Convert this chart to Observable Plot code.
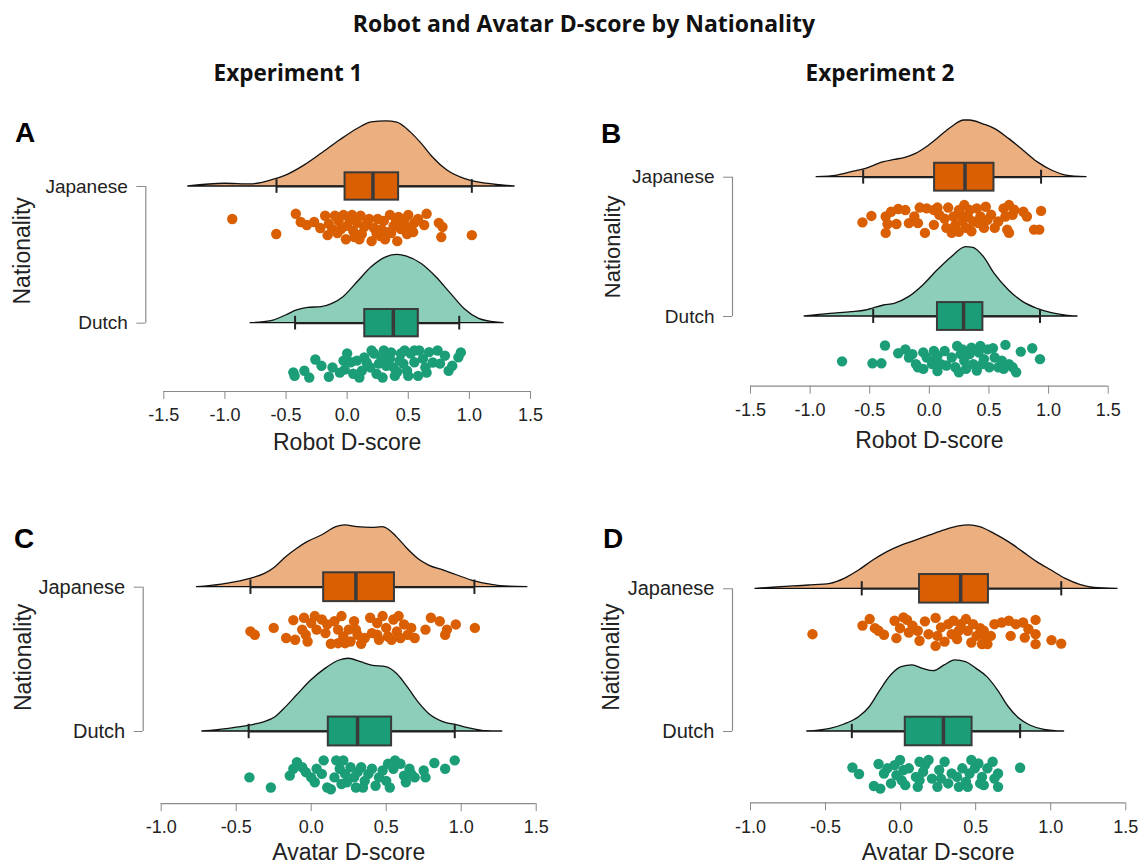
<!DOCTYPE html>
<html>
<head>
<meta charset="utf-8">
<script src="https://cdn.jsdelivr.net/npm/d3@7"></script>
<script src="https://cdn.jsdelivr.net/npm/@observablehq/plot@0.6"></script>
<style>
  html, body { margin: 0; padding: 0; background: #fff; }
  #wrap { position: relative; width: 1141px; height: 864px; overflow: hidden; }
  .pnl { position: absolute; }
  .pnl svg, .pnl svg text { font-family: 'Liberation Sans', Arial, sans-serif !important; }
  #overlay { position: absolute; left: 0; top: 0; pointer-events: none; }
</style>
</head>
<body>
<div id="wrap">
  <svg id="overlay" width="1141" height="864"></svg>
</div>
<script>
// ---------- categories & text ----------
const groups = ["Japanese", "Dutch"];
const groupColors = ["#d95f02", "#1b9e77"];
const ticksRobot = [-1.5, -1.0, -0.5, 0.0, 0.5, 1.0, 1.5];
const ticksAvatar = [-1.0, -0.5, 0.0, 0.5, 1.0, 1.5];
const mainTitle = "Robot and Avatar D-score by Nationality";
const colTitles = ["Experiment 1", "Experiment 2"];
const yLabel = "Nationality";

// ---------- Panel A (Experiment 1, Robot) ----------
const A_jpDensX = [-1.30,-1.0,-0.79,-0.62,-0.50,-0.35,-0.21,-0.06,0.085,0.20,0.32,0.41,0.52,0.61,0.70,0.82,0.96,1.11,1.25,1.37];
const A_jpDensH = [0,0.020,0.015,0.044,0.080,0.153,0.239,0.336,0.421,0.469,0.477,0.467,0.396,0.312,0.214,0.117,0.056,0.024,0.009,0];
const A_nlDensX = [-0.79,-0.62,-0.50,-0.41,-0.32,-0.21,-0.12,-0.03,0.085,0.20,0.32,0.41,0.49,0.61,0.73,0.85,0.96,1.08,1.20,1.28];
const A_nlDensH = [0,0.015,0.056,0.093,0.112,0.117,0.141,0.190,0.299,0.409,0.482,0.499,0.487,0.433,0.336,0.214,0.104,0.031,0.007,0];
const A_jpBox = [-0.578,-0.017,0.211,0.421,1.020];
const A_nlBox = [-0.426,0.144,0.378,0.582,0.917];
const A_jpPtsX = [-0.94,-0.58,-0.42,-0.38,-0.33,-0.27,-0.22,-0.18,-0.16,-0.15,-0.10,-0.08,-0.07,-0.03,-0.01,0.00,0.04,0.05,0.08,0.11,0.12,0.16,0.20,0.22,0.25,0.27,0.30,0.33,0.35,0.38,0.41,0.42,0.45,0.49,0.50,0.55,0.54,0.63,0.65,0.75,0.78,0.77,1.02,0.06,0.14,0.18,0.28,0.31,0.36,0.40,0.44,0.47,0.52,-0.05,-0.12,0.24,0.10,0.58,0.02];
const A_jpPtsJ = [0.19,0.74,0,0.30,0.41,0.30,0.52,0.07,0.78,0.37,0.07,0.70,0.26,0.04,0.93,0.44,0.04,0.63,0.33,0.07,0.74,0.37,1,0.52,0.19,0.81,0.26,0.67,0.04,0.44,1,0.11,0.37,0.74,0.04,0.33,0.67,0.41,0,0.33,0.48,0.85,0.78,0.85,0.48,0.19,0.56,0.93,0.70,0.26,0.56,0.19,0.48,0.56,0.56,0.70,0.93,0.19,0.22];
const A_nlPtsX = [-0.44,-0.43,-0.35,-0.31,-0.26,-0.21,-0.12,-0.15,-0.03,-0.02,0.03,0.05,0.10,0.14,0.19,0.22,0.26,0.29,0.30,0.35,0.38,0.39,0.44,0.46,0.49,0.52,0.55,0.58,0.59,0.64,0.67,0.74,0.76,0.80,0.83,0.86,0.91,0.93,0.12,0.20,0.24,0.32,0.36,0.41,0.47,0.50,0.55,0.62,0.70,0.00,-0.06,0.08,0.16,0.28,0.43,0.65];
const A_nlPtsJ = [0.80,0.93,0.74,0.99,0.33,0.56,0.62,0.96,0.37,0.70,0.43,0.85,0.99,0.25,0.62,0.11,0.48,0.99,0,0.30,0.62,0.93,0.11,0.48,0.74,0.11,0.43,0.93,0,0.62,0.06,0,0.48,0.19,0.74,0.56,0.25,0.07,0.74,0,0.85,0.56,0.07,0.78,0,0.93,0,0.30,0.44,0.11,0.81,0.37,0.44,0.26,0.37,0.81];

// ---------- Panel B (Experiment 2, Robot) ----------
const B_jpDensX = [-0.945,-0.771,-0.651,-0.531,-0.381,-0.291,-0.201,-0.112,-0.022,0.068,0.188,0.293,0.338,0.458,0.548,0.668,0.788,0.907,1.027,1.147,1.318];
const B_jpDensH = [0,0.012,0.036,0.060,0.108,0.124,0.139,0.167,0.215,0.275,0.359,0.407,0.407,0.378,0.347,0.275,0.192,0.108,0.048,0.012,0];
const B_nlDensX = [-1.046,-0.831,-0.651,-0.531,-0.381,-0.291,-0.171,-0.051,0.068,0.188,0.308,0.368,0.458,0.548,0.668,0.788,0.907,1.027,1.147,1.243];
const B_nlDensH = [0,0.019,0.031,0.043,0.079,0.091,0.139,0.223,0.330,0.426,0.498,0.493,0.426,0.306,0.187,0.103,0.055,0.024,0.007,0];
const B_jpBox = [-0.555,0.044,0.299,0.542,0.937];
const B_nlBox = [-0.471,0.068,0.287,0.449,0.928];
const B_jpPtsX = [-0.561,-0.486,-0.366,-0.351,-0.366,-0.321,-0.276,-0.261,-0.201,-0.171,-0.096,-0.081,-0.037,-0.022,0.038,0.038,0.068,0.128,0.158,0.188,0.203,0.218,0.248,0.248,0.278,0.293,0.308,0.323,0.338,0.353,0.368,0.398,0.428,0.458,0.473,0.518,0.548,0.578,0.623,0.638,0.653,0.668,0.698,0.713,0.788,0.818,0.878,0.922,0.937,0.668,0.083,0.263,0.413,-0.126,0.143,0.488];
const B_jpPtsJ = [0.62,0.39,0.41,0.68,1.0,0.24,0.68,0.14,0.18,0.65,0.65,0.09,1.0,0.12,0.71,0.18,0.09,0.49,0.09,1.0,0.41,0.71,0.18,0.96,0.59,0,0.82,0.41,0.18,0.94,0.59,0.12,0.41,0.82,0.06,0.35,0.82,0.59,0.12,0.41,0.88,0,0.35,0.18,0.24,0.41,0.88,0.88,0.21,1.0,0.35,0.35,0.65,0.41,0.82,0.53];
const B_nlPtsX = [-0.732,-0.477,-0.402,-0.372,-0.261,-0.201,-0.171,-0.112,-0.096,-0.051,-0.051,-0.022,0.038,0.053,0.068,0.128,0.143,0.188,0.218,0.233,0.248,0.263,0.293,0.308,0.338,0.353,0.368,0.398,0.413,0.428,0.458,0.488,0.503,0.533,0.548,0.578,0.623,0.638,0.668,0.698,0.728,0.767,0.863,0.928,0.098,0.023,-0.142,0.608,0.278,0.443,0.068];
const B_nlPtsJ = [0.61,0.68,0.68,0.04,0.32,0.18,0.47,0.71,0.82,0.29,0.88,0.47,0.24,0.53,0.96,0.24,0.76,0.47,0.82,0.06,1.0,0.35,0.59,0.88,0.35,0.12,0.71,0.94,0.29,0.06,0.53,0.18,0.82,0.14,0.47,0.82,0.88,0.02,0.71,0.82,1.0,0.26,0.14,0.53,0.71,0.71,0.35,0.59,0.18,0.71,0.41];

// ---------- Panel C (Experiment 1, Avatar) ----------
const C_jpDensX = [-0.762,-0.595,-0.500,-0.405,-0.309,-0.238,-0.167,-0.095,-0.024,0.071,0.167,0.226,0.309,0.405,0.476,0.524,0.571,0.643,0.714,0.786,0.881,0.976,1.071,1.167,1.262,1.441];
const C_jpDensH = [0,0.018,0.035,0.058,0.092,0.139,0.208,0.265,0.312,0.358,0.416,0.428,0.416,0.411,0.416,0.393,0.347,0.265,0.196,0.150,0.116,0.081,0.046,0.023,0.007,0];
const C_nlDensX = [-0.726,-0.548,-0.405,-0.309,-0.238,-0.167,-0.095,0.000,0.095,0.190,0.250,0.333,0.405,0.500,0.571,0.643,0.714,0.786,0.881,0.976,1.071,1.167,1.274];
const C_nlDensH = [0,0.018,0.042,0.065,0.099,0.169,0.249,0.353,0.434,0.492,0.504,0.480,0.457,0.446,0.400,0.307,0.203,0.122,0.065,0.042,0.018,0.002,0];
const C_jpBox = [-0.405,0.083,0.298,0.555,1.088];
const C_nlBox = [-0.417,0.114,0.309,0.536,0.957];
const C_jpPtsX = [-0.405,-0.376,-0.250,-0.167,-0.119,-0.107,-0.060,-0.048,-0.036,-0.024,0.000,0.024,0.036,0.071,0.095,0.131,0.155,0.179,0.202,0.214,0.226,0.250,0.262,0.286,0.309,0.333,0.357,0.393,0.405,0.440,0.452,0.476,0.500,0.512,0.548,0.571,0.583,0.595,0.619,0.643,0.667,0.690,0.762,0.798,0.857,0.893,0.905,0.964,1.091,0.536,0.440,0.298,0.179,0.107];
const C_jpPtsJ = [0.53,0.65,0.41,0.76,0.14,0.82,0.47,0.06,0.65,0.88,0.24,0,0.47,0.12,0.59,0.96,0.18,0.94,0,0.71,0.94,0.47,0.88,0.18,0.65,0.96,0.76,0.06,0.59,0.24,0.82,0,0.41,0.71,0.12,0.53,0,0.76,0.29,0.65,0.41,0.76,0.47,0.06,0.18,0.65,0.47,0.29,0.41,0.82,0.65,0.47,0.47,0.29];
const C_nlPtsX = [-0.412,-0.269,-0.143,-0.119,-0.095,-0.060,-0.036,0.000,0.024,0.036,0.071,0.083,0.107,0.131,0.155,0.167,0.190,0.214,0.226,0.238,0.262,0.286,0.298,0.309,0.333,0.357,0.381,0.405,0.429,0.452,0.476,0.500,0.524,0.548,0.559,0.595,0.619,0.631,0.655,0.690,0.750,0.762,0.821,0.893,0.957,0.345,0.202,0.512,0.667];
const C_nlPtsJ = [0.59,0.94,0.53,0.29,0.06,0.24,0.41,0.59,0.76,0.29,0.47,0,0.94,1.0,0.59,0,0.29,0,0.47,0.76,0.24,0.59,0.94,0.41,0.24,0.71,0.47,0.29,0.88,0.59,0.35,0.71,0.94,0.29,0,0.12,0.53,0.76,0.29,0.59,0.35,0.59,0.09,0.29,0,0.94,0.82,0.12,0.47];

// ---------- Panel D (Experiment 2, Avatar) ----------
const D_jpDensX = [-0.967,-0.800,-0.610,-0.468,-0.373,-0.277,-0.182,-0.088,0.007,0.102,0.198,0.293,0.388,0.459,0.530,0.625,0.721,0.816,0.910,1.005,1.100,1.196,1.291,1.445];
const D_jpDensH = [0,0.012,0.023,0.035,0.070,0.128,0.198,0.257,0.303,0.338,0.374,0.409,0.437,0.444,0.432,0.385,0.327,0.257,0.187,0.128,0.070,0.028,0.007,0];
const D_nlDensX = [-0.622,-0.468,-0.373,-0.277,-0.206,-0.135,-0.064,0.007,0.079,0.150,0.221,0.293,0.364,0.435,0.506,0.578,0.649,0.721,0.792,0.863,0.958,1.089];
const D_nlDensH = [0,0.019,0.049,0.100,0.170,0.287,0.392,0.451,0.463,0.439,0.423,0.463,0.498,0.486,0.439,0.381,0.287,0.170,0.089,0.042,0.012,0];
const D_jpBox = [-0.259,0.126,0.400,0.585,1.070];
const D_nlBox = [-0.325,0.031,0.285,0.476,0.796];
const D_jpPtsX = [-0.587,-0.254,-0.206,-0.171,-0.147,-0.111,-0.040,-0.028,-0.004,0.019,0.043,0.055,0.114,0.126,0.162,0.186,0.233,0.233,0.269,0.293,0.317,0.340,0.352,0.376,0.400,0.435,0.447,0.471,0.483,0.506,0.530,0.542,0.566,0.578,0.601,0.625,0.673,0.721,0.733,0.768,0.816,0.827,0.851,0.899,0.899,0.899,1.005,1.070,0.388,0.245,0.554,0.079];
const D_jpPtsJ = [0.59,0.29,0.06,0.38,0.47,0.61,0.12,0.73,0.38,0,0.09,0.53,0.47,0.82,0.14,0.59,0.02,1.0,0.35,0.85,0.24,0.59,0.12,0.76,0.24,0.06,0.47,0.88,0.24,0.65,0.38,0.94,0.71,0.94,0.65,0.24,0.18,0.12,0.65,0.24,0.18,0.71,0.41,0.94,0.09,0.59,0.80,0.92,0.47,0.65,0.47,0.29];
const D_nlPtsX = [-0.321,-0.277,-0.178,-0.147,-0.135,-0.111,-0.088,-0.064,-0.040,-0.028,-0.004,0.019,0.031,0.055,0.102,0.114,0.126,0.150,0.162,0.186,0.209,0.245,0.257,0.293,0.317,0.340,0.376,0.388,0.411,0.435,0.459,0.471,0.494,0.518,0.542,0.554,0.578,0.613,0.625,0.649,0.649,0.796,0.126,0.269,0.447,0.007,0.530];
const D_nlPtsJ = [0.26,0.49,0.91,0.14,1.0,0.47,0.29,0.82,0.18,0.53,0,0.35,0.88,0.29,0.59,0.94,0.71,0.41,0.18,0,0.65,0.94,0.35,0.06,0.82,0.47,0.59,0.94,0.29,0.76,0.47,0,0.29,0.12,0.59,0.88,0.29,0.06,0.65,0.94,0.47,0.27,0.06,0.65,0.94,0.71,0.82];

// ---------- layout of the four panels ----------
const panels = [
  { key: "A", left: 0,   top: 100, width: 560, height: 360, mL: 163.3, mR: 30,   mT: 17.65, mB: 69,
    domain: [-1.5, 1.5], ticks: ticksRobot, label: "Robot D-score", labelSize: 23, labelDy: 50.7,
    catSize: 19, natSize: 23, natDx: -141, natDy: -4,
    data: [[A_jpDensX, A_jpDensH, A_jpBox, A_jpPtsX, A_jpPtsJ], [A_nlDensX, A_nlDensH, A_nlBox, A_nlPtsX, A_nlPtsJ]] },
  { key: "B", left: 580, top: 90,  width: 561, height: 370, mL: 170,   mR: 33.3, mT: 17.05, mB: 74.35,
    domain: [-1.5, 1.5], ticks: ticksRobot, label: "Robot D-score", labelSize: 23, labelDy: 54.3,
    catSize: 19, natSize: 22, natDx: -138, natDy: 0,
    data: [[B_jpDensX, B_jpDensH, B_jpBox, B_jpPtsX, B_jpPtsJ], [B_nlDensX, B_nlDensH, B_nlBox, B_nlPtsX, B_nlPtsJ]] },
  { key: "C", left: 0,   top: 500, width: 560, height: 364, mL: 160.7, mR: 24.3, mT: 14.55, mB: 60.85,
    domain: [-1.0, 1.5], ticks: ticksAvatar, label: "Avatar D-score", labelSize: 23, labelDy: 48.6,
    catSize: 20, natSize: 23, natDx: -138, natDy: -2,
    data: [[C_jpDensX, C_jpDensH, C_jpBox, C_jpPtsX, C_jpPtsJ], [C_nlDensX, C_nlDensH, C_nlBox, C_nlPtsX, C_nlPtsJ]] },
  { key: "D", left: 580, top: 500, width: 561, height: 364, mL: 170,   mR: 15.7, mT: 16.95, mB: 61.65,
    domain: [-1.0, 1.5], ticks: ticksAvatar, label: "Avatar D-score", labelSize: 23, labelDy: 49.3,
    catSize: 20, natSize: 23, natDx: -138.6, natDy: -3,
    data: [[D_jpDensX, D_jpDensH, D_jpBox, D_jpPtsX, D_jpPtsJ], [D_nlDensX, D_nlDensH, D_nlBox, D_nlPtsX, D_nlPtsJ]] }
];

// row positions on the y scale: Japanese on top, Dutch below
const rowBase = { Japanese: 2, Dutch: 1 };
const boxHalf = 0.1, capHalf = 0.05, jitterTop = 0.2, jitterSpan = 0.2;
const FONT = "'Liberation Sans', Arial, sans-serif";

function buildPanel(cfg) {
  const dens = [], stats = [], pts = [], caps = [];
  groups.forEach((name, gi) => {
    const [dx, dh, st, px, pj] = cfg.data[gi];
    const base = rowBase[name];
    dx.forEach((x, i) => dens.push({ name, base, x, h: dh[i] }));
    stats.push({ name, base, lo: st[0], q1: st[1], med: st[2], q3: st[3], hi: st[4] });
    caps.push({ name, base, x: st[0] }, { name, base, x: st[4] });
    px.forEach((x, i) => pts.push({ name, base, x, j: pj[i] ?? 0.5 }));
  });
  const x0 = cfg.domain[0], x1 = cfg.domain[1];
  const svg = Plot.plot({
    width: cfg.width, height: cfg.height,
    marginLeft: cfg.mL, marginRight: cfg.mR, marginTop: cfg.mT, marginBottom: cfg.mB,
    x: { domain: cfg.domain, axis: null },
    y: { domain: [0.5, 2.5], axis: null },
    color: { type: "ordinal", domain: groups, range: groupColors },
    style: { fontFamily: FONT, background: "none", overflow: "visible", color: "#222" },
    marks: [
      Plot.areaY(dens, { x: "x", y1: "base", y2: d => d.base + d.h, z: "name", fill: "name", fillOpacity: 0.5,
                         stroke: "#111", strokeWidth: 1.3, curve: "monotone-x" }),
      Plot.ruleY(stats, { x1: "lo", x2: "hi", y: "base", stroke: "#222", strokeWidth: 2 }),
      Plot.ruleX(caps, { x: "x", y1: d => d.base - capHalf, y2: d => d.base + capHalf, stroke: "#222", strokeWidth: 2 }),
      Plot.rect(stats, { x1: "q1", x2: "q3", y1: d => d.base - boxHalf, y2: d => d.base + boxHalf,
                         fill: "name", stroke: "#3a3a3a", strokeWidth: 2 }),
      Plot.ruleX(stats, { x: "med", y1: d => d.base - boxHalf, y2: d => d.base + boxHalf, stroke: "#3a3a3a", strokeWidth: 3.5 }),
      Plot.dot(pts, { x: "x", y: d => d.base - jitterTop - jitterSpan * d.j, r: 5.2, fill: "name" }),
      // x axis (R-style: line only between first and last tick)
      Plot.ruleY([0.5], { x1: x0, x2: x1, stroke: "#8a8a8a", strokeWidth: 1.2 }),
      Plot.axisX({ ticks: cfg.ticks, tickFormat: d => d.toFixed(1), tickSize: 8, tickPadding: 9, fontSize: 18,
                   fontFamily: FONT, stroke: "#8a8a8a", fill: "#222", label: null }),
      Plot.text([cfg.label], { frameAnchor: "bottom", dy: cfg.labelDy, fontSize: cfg.labelSize, fontFamily: FONT,
                               fill: "#222", lineAnchor: "middle" }),
      // y axis bracket offset from the frame
      Plot.ruleX([x0], { y1: 1, y2: 2, dx: -18, stroke: "#8a8a8a", strokeWidth: 1.2 }),
      Plot.axisY({ ticks: [1, 2], tickFormat: d => (d === 2 ? groups[0] : groups[1]), tickSize: 9, tickPadding: 9, dx: -18,
                   fontSize: cfg.catSize, fontFamily: FONT, stroke: "#8a8a8a", fill: "#222", label: null }),
      Plot.text([yLabel], { x: x0, y: 1.5, dx: cfg.natDx, dy: cfg.natDy, rotate: -90, fontSize: cfg.natSize,
                            fontFamily: FONT, fill: "#222" })
    ]
  });
  svg.style.fontFamily = FONT;
  return svg;
}

const wrap = document.getElementById("wrap");
for (const cfg of panels) {
  const svg = buildPanel(cfg);
  const holder = document.createElement("div");
  holder.className = "pnl";
  holder.style.left = cfg.left + "px";
  holder.style.top = cfg.top + "px";
  holder.appendChild(svg);
  wrap.appendChild(holder);
}

// ---------- titles and panel letters ----------
const ov = d3.select("#overlay");
const TITLE_FONT = "'Open Sans', Lato, sans-serif";
ov.append("text").attr("x", 584).attr("y", 32).attr("text-anchor", "middle")
  .attr("font-family", TITLE_FONT).attr("font-weight", 700).attr("font-size", 23).attr("fill", "#111")
  .text(mainTitle);
[[288, colTitles[0]], [880, colTitles[1]]].forEach(([x, t]) =>
  ov.append("text").attr("x", x).attr("y", 81).attr("text-anchor", "middle")
    .attr("font-family", TITLE_FONT).attr("font-weight", 700).attr("font-size", 22.5).attr("fill", "#111")
    .text(t));
[["A", 15, 142], ["B", 601, 143], ["C", 14, 548], ["D", 603, 548]].forEach(([t, x, y]) =>
  ov.append("text").attr("x", x).attr("y", y)
    .attr("font-family", FONT).attr("font-weight", 700).attr("font-size", 28).attr("fill", "#000")
    .text(t));
</script>
</body>
</html>
